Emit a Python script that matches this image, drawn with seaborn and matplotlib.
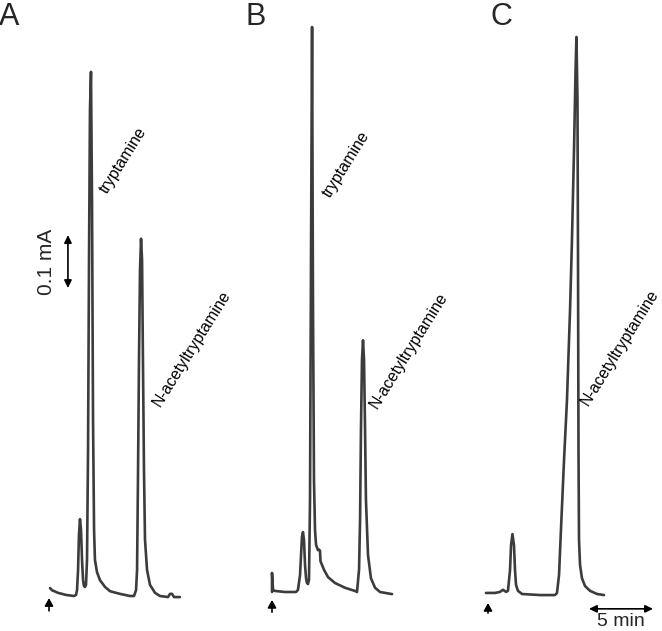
import matplotlib
matplotlib.use("Agg")
import matplotlib.pyplot as plt
import seaborn as sns

# chromatogram A: time (min) and absorbance (mA)
a_time = [0.08, 0.23, 0.70, 1.33, 1.95, 2.11, 2.19, 2.27, 2.34, 2.42, 2.50, 2.58, 2.66,
          2.73, 2.81, 2.89, 2.97, 3.05, 3.13, 3.20, 3.28, 3.36, 3.44, 3.52, 3.59, 3.75,
          3.98, 4.38, 4.77, 5.55, 6.33, 6.64, 6.80, 6.88, 6.95, 7.03, 7.11, 7.19, 7.27,
          7.34, 7.42, 7.50, 7.66, 7.89, 8.28, 8.67, 9.30, 9.45, 9.61, 9.77, 10.23]
a_abs = [0.015, 0.011, 0.006, 0.002, 0.000, 0.002, 0.011, 0.049, 0.115, 0.145, 0.125, 0.068,
         0.030, 0.019, 0.017, 0.021, 0.068, 0.275, 0.653, 0.917, 0.989, 0.747, 0.332, 0.125,
         0.068, 0.045, 0.030, 0.017, 0.009, 0.004, 0.000, 0.000, 0.011, 0.049, 0.219, 0.445,
         0.615, 0.674, 0.634, 0.445, 0.238, 0.106, 0.049, 0.021, 0.006, 0.000, -0.002, 0.004,
         0.004, -0.002, -0.002]

# chromatogram B
b_time = [0.00, 0.00, 0.08, 0.23, 1.02, 1.88, 2.03, 2.19, 2.27, 2.34, 2.42, 2.50, 2.58,
          2.66, 2.73, 2.81, 2.89, 2.97, 3.05, 3.13, 3.20, 3.28, 3.36, 3.44, 3.59, 3.67,
          3.75, 3.79, 4.06, 4.38, 4.92, 5.70, 6.48, 6.64, 6.80, 6.88, 6.95, 7.03, 7.11,
          7.19, 7.27, 7.34, 7.50, 7.73, 8.05, 8.44, 9.38]
b_abs = [0.000, 0.036, 0.004, 0.002, 0.000, 0.000, 0.004, 0.032, 0.070, 0.104, 0.113, 0.098,
         0.051, 0.026, 0.017, 0.015, 0.023, 0.174, 0.645, 1.066, 0.551, 0.211, 0.117, 0.089,
         0.079, 0.080, 0.078, 0.058, 0.042, 0.028, 0.017, 0.008, 0.002, 0.000, 0.042, 0.136,
         0.306, 0.438, 0.475, 0.438, 0.306, 0.174, 0.070, 0.026, 0.008, 0.000, -0.004]

# chromatogram C
c_time = [-0.16, 0.55, 0.94, 1.17, 1.41, 1.56, 1.72, 1.80, 1.91, 2.03, 2.11, 2.19, 2.34,
          2.66, 4.06, 5.23, 5.39, 5.55, 5.70, 5.94, 6.17, 6.41, 6.56, 6.72, 6.84, 6.91,
          6.99, 7.03, 7.07, 7.11, 7.19, 7.34, 7.58, 7.97, 8.52, 9.06]
c_abs = [0.002, 0.002, 0.004, 0.008, 0.004, 0.006, 0.045, 0.092, 0.113, 0.092, 0.045, 0.017,
         0.006, 0.000, -0.002, -0.002, 0.002, 0.036, 0.121, 0.253, 0.366, 0.536, 0.668, 0.838,
         0.989, 1.051, 0.932, 0.649, 0.272, 0.102, 0.055, 0.030, 0.015, 0.006, 0.000, -0.002]

panel_names = ["A", "B", "C"]
peak_labels = {
    "A": [("tryptamine", 4.72, 0.755), ("N-acetyltryptamine", 8.85, 0.352)],
    "B": [("tryptamine", 4.72, 0.740), ("N-acetyltryptamine", 8.40, 0.342)],
    "C": [("N-acetyltryptamine", 8.00, 0.350)],
}

sns.set_style("white")
plt.rcParams['font.family'] = ['Liberation Sans', 'DejaVu Sans']

W, H = 662, 631
PX_MIN = 12.8    # pixels per minute
PX_MA = 530.0    # pixels per mA
XLIM = (-1.0, 13.5)
YLIM = (-0.06, 1.12)
LINE = '#3c3c3c'

fig = plt.figure(figsize=(W / 100, H / 100), dpi=100)


def panel_axes(x0_px, base_px):
    # axes placed so that t=0 / baseline fall at the given pixel
    left = x0_px + XLIM[0] * PX_MIN
    width = (XLIM[1] - XLIM[0]) * PX_MIN
    bottom = base_px - YLIM[0] * PX_MA
    height = (YLIM[1] - YLIM[0]) * PX_MA
    ax = fig.add_axes([left / W, (H - bottom) / H, width / W, height / H])
    ax.set_xlim(XLIM)
    ax.set_ylim(YLIM)
    ax.set_axis_off()
    return ax


layout = {"A": (49, 596, (-0.004, -0.028)),
          "B": (272, 592, (-0.015, -0.038)),
          "C": (488, 594, (-0.017, -0.036))}
traces = {"A": (a_time, a_abs), "B": (b_time, b_abs), "C": (c_time, c_abs)}
letter_x = {"A": -1, "B": 245, "C": 490}

axes = {}
for name in panel_names:
    x0, base, (arr_top, arr_bot) = layout[name]
    ax = panel_axes(x0, base)
    axes[name] = ax
    t, a = traces[name]
    sns.lineplot(x=t, y=a, ax=ax, sort=False, estimator=None, color=LINE, lw=1.9)

    # injection arrow
    ax.annotate("", xy=(0, arr_top), xytext=(0, arr_bot), annotation_clip=False,
                arrowprops=dict(arrowstyle='-|>,head_length=0.45,head_width=0.25',
                                color='black', lw=1.2, shrinkA=0, shrinkB=0))

    for txt, tx, ty in peak_labels[name]:
        ax.text(tx, ty, txt, rotation=58, rotation_mode='anchor', ha='left', va='bottom',
                fontsize=11.5, color='black')

    fig.text(letter_x[name] / W, 1 - 2 / H, name, fontsize=22, va='top', ha='left')

# 0.1 mA scale bar
axA = axes["A"]
axA.annotate("", xy=(1.48, 0.681), xytext=(1.48, 0.581),
             arrowprops=dict(arrowstyle='<|-|>,head_length=0.45,head_width=0.22',
                             color='black', lw=1.2, shrinkA=0, shrinkB=0))
axA.text(-0.16, 0.63, "0.1 mA", rotation=90, ha='center', va='center', fontsize=15)

# 5 min scale bar
axC = axes["C"]
axC.annotate("", xy=(12.89, -0.028), xytext=(7.89, -0.028), annotation_clip=False,
             arrowprops=dict(arrowstyle='<|-|>,head_length=0.45,head_width=0.22',
                             color='black', lw=1.2, shrinkA=0, shrinkB=0))
axC.text(10.39, -0.036, "5 min", ha='center', va='top', fontsize=14, clip_on=False)

fig.savefig("out.png", dpi=100)
